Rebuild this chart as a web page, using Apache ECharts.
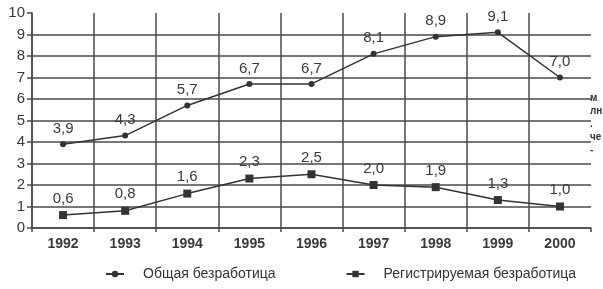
<!DOCTYPE html>
<html>
<head>
<meta charset="utf-8">
<script src="https://cdn.jsdelivr.net/npm/echarts@6/dist/echarts.min.js"></script>
<style>
html,body{margin:0;padding:0;background:#fff;}
#chart{width:603px;height:289px;}
</style>
</head>
<body>
<div id="chart"></div>
<script>
var years = ['1992','1993','1994','1995','1996','1997','1998','1999','2000'];
var totalUnemp = [3.9, 4.3, 5.7, 6.7, 6.7, 8.1, 8.9, 9.1, 7.0];
var regUnemp = [0.6, 0.8, 1.6, 2.3, 2.5, 2.0, 1.9, 1.3, 1.0];
var seriesNames = ['Общая безработица', 'Регистрируемая безработица'];

var ink = '#333';
var gridCol = '#4a4a4a';
// last split line (top of y, right of x) is not drawn in the original
var lineCols = [gridCol,gridCol,gridCol,gridCol,gridCol,gridCol,gridCol,gridCol,gridCol,gridCol,'rgba(0,0,0,0)'];
var vCols = [gridCol,gridCol,gridCol,gridCol,gridCol,gridCol,gridCol,gridCol,gridCol,'rgba(0,0,0,0)'];

function fmt(p){ return p.value.toFixed(1).replace('.', ','); }

var mychart = echarts.init(document.getElementById('chart'));
var option = {
	animation: false,
	backgroundColor: '#fff',
	grid: { left: 32, right: 12, top: 13, bottom: 61 },
	legend: {
		data: seriesNames,
		left: 100,
		top: 262,
		itemWidth: 18,
		itemHeight: 8,
		itemGap: 70,
		textStyle: { fontFamily: 'Liberation Sans Narrow, Liberation Sans, sans-serif', fontSize: 14, color: ink, padding: [0,0,0,14] }
	},
	xAxis: {
		type: 'category',
		data: years,
		boundaryGap: true,
		axisLine: { show: true, lineStyle: { color: gridCol, width: 1.5 } },
		axisTick: { show: true, length: 4, lineStyle: { color: gridCol, width: 1.5 } },
		axisLabel: { fontFamily: 'Liberation Sans, Arial, sans-serif', fontSize: 14, fontWeight: 'bold', color: '#3a3a3a', margin: 9 },
		splitLine: { show: true, interval: 0, lineStyle: { color: vCols, width: 1.5 } }
	},
	yAxis: {
		type: 'value',
		min: 0, max: 10, interval: 1,
		axisLine: { show: true, lineStyle: { color: gridCol, width: 1.5 } },
		axisTick: { show: true, length: 5, lineStyle: { color: gridCol, width: 1.5 } },
		axisLabel: { fontFamily: 'Liberation Sans, Arial, sans-serif', fontSize: 15, color: '#3a3a3a', margin: 7 },
		splitLine: { show: true, lineStyle: { color: lineCols, width: 1.5 } }
	},
	graphic: [{
		type: 'text',
		left: 590, top: 92,
		style: { text: 'м\nлн\n.\nче\n-', fontSize: 10, fontWeight: 'bold', lineHeight: 13, fill: ink, fontFamily: 'Liberation Sans, sans-serif' }
	}],
	series: [{
		name: seriesNames[0],
		type: 'line',
		data: totalUnemp,
		symbol: 'circle',
		symbolSize: 6,
		lineStyle: { color: ink, width: 1.5 },
		itemStyle: { color: ink },
		label: { show: true, position: 'top', distance: 5, formatter: fmt, fontFamily: 'Liberation Sans, Arial, sans-serif', fontSize: 15, color: '#3a3a3a' }
	}, {
		name: seriesNames[1],
		type: 'line',
		data: regUnemp,
		symbol: 'rect',
		symbolSize: 8,
		lineStyle: { color: ink, width: 1.5 },
		itemStyle: { color: ink },
		label: { show: true, position: 'top', distance: 5, formatter: fmt, fontFamily: 'Liberation Sans, Arial, sans-serif', fontSize: 15, color: '#3a3a3a' }
	}]
};
mychart.setOption(option, true);
</script>
</body>
</html>
